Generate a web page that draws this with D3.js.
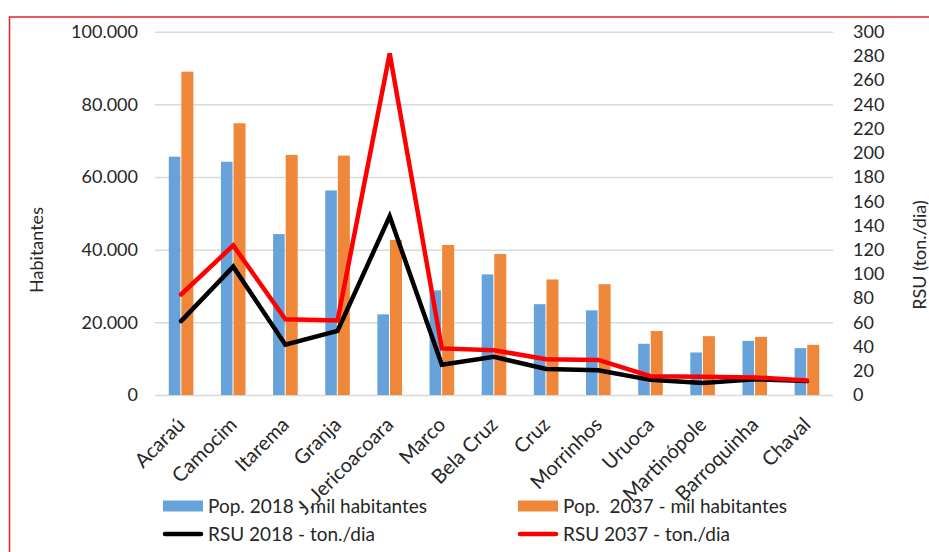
<!DOCTYPE html>
<html>
<head>
<meta charset="utf-8">
<script src="https://cdn.jsdelivr.net/npm/d3@7"></script>
<style>
  body { margin: 0; background: #fff; }
  svg { display: block; font-family: Lato, "Open Sans", sans-serif; }
</style>
</head>
<body>
<div id="chart"></div>
<script>
const municipios = ["Acaraú", "Camocim", "Itarema", "Granja", "J. Jericoacoara", "Marco", "Bela Cruz",
    "Cruz", "Morrinhos", "Uruoca", "Martinópole", "Barroquinha", "Chaval"];
const pop2018 = [65600, 64200, 44300, 56300, 22200, 28800, 33200, 25000, 23300, 14100, 11700, 14900, 12900];
const pop2037 = [89000, 74800, 66100, 65900, 42700, 41300, 38800, 31800, 30500, 17600, 16200, 16000, 13800];
const rsu2018 = [61, 106, 41.5, 53, 147.5, 25, 31.5, 21.5, 20.5, 12.5, 10, 13, 11.5];
const rsu2037 = [83, 123.5, 62.5, 61.5, 282, 38.5, 37, 29.5, 29, 15.5, 15, 14.5, 12];
const popTicks = [0, 20000, 40000, 60000, 80000, 100000];
const rsuTicks = d3.range(0, 301, 20);

const W = 929, H = 552;
const plotLeft = 155, plotRight = 833, plotTop = 31.7, plotBottom = 395;

const svg = d3.select("#chart").append("svg")
    .attr("width", W)
    .attr("height", H);

// moldura vermelha
svg.append("rect")
    .attr("x", 9.5).attr("y", 17)
    .attr("width", W + 20).attr("height", H + 20)
    .attr("fill", "none")
    .attr("stroke", "#e3262b")
    .attr("stroke-width", 1.5);

const ptBR = d3.formatLocale({ decimal: ",", thousands: ".", grouping: [3], currency: ["R$", ""] });

const x = d3.scaleBand()
    .domain(municipios)
    .range([plotLeft, plotRight]);

const barW = x.bandwidth() * 0.236;

const yPop = d3.scaleLinear().domain([0, 100000]).range([plotBottom, plotTop]);
const yRsu = d3.scaleLinear().domain([0, 300]).range([plotBottom, plotTop]);

// grade + eixo esquerdo
const gLeft = svg.append("g")
    .attr("transform", `translate(${plotLeft},0)`)
    .call(d3.axisLeft(yPop)
        .tickValues(popTicks)
        .tickSize(-(plotRight - plotLeft))
        .tickPadding(17)
        .tickFormat(d => ptBR.format(",")(d)));
gLeft.select(".domain").remove();
gLeft.selectAll("line").attr("stroke", "#d9d9d9").attr("stroke-width", 1.5);
gLeft.selectAll("text").attr("font-size", 18).attr("fill", "#262626").attr("font-family", "Lato");

// eixo direito
const gRight = svg.append("g")
    .attr("transform", `translate(${plotRight},0)`)
    .call(d3.axisRight(yRsu).tickValues(rsuTicks).tickSize(0).tickPadding(20));
gRight.select(".domain").remove();
gRight.selectAll("text").attr("font-size", 18).attr("fill", "#262626").attr("font-family", "Lato");

// barras
const grupos = svg.append("g").selectAll("g")
    .data(municipios)
    .enter().append("g");

grupos.append("rect")
    .attr("x", (d) => x(d) + x.bandwidth() / 2 - barW)
    .attr("y", (d, i) => yPop(pop2018[i]))
    .attr("width", barW - 0.7)
    .attr("height", (d, i) => plotBottom - yPop(pop2018[i]))
    .attr("fill", "#67a3da");

grupos.append("rect")
    .attr("x", (d) => x(d) + x.bandwidth() / 2 + 0.3)
    .attr("y", (d, i) => yPop(pop2037[i]))
    .attr("width", barW - 0.3)
    .attr("height", (d, i) => plotBottom - yPop(pop2037[i]))
    .attr("fill", "#ef873a");

// linhas RSU
const linha = d3.line()
    .x((d, i) => x(municipios[i]) + x.bandwidth() / 2)
    .y(d => yRsu(d));

svg.append("path")
    .datum(rsu2018)
    .attr("d", linha)
    .attr("fill", "none")
    .attr("stroke", "#000")
    .attr("stroke-width", 4.5)
    .attr("stroke-linejoin", "miter")
    .attr("stroke-linecap", "round");

svg.append("path")
    .datum(rsu2037)
    .attr("d", linha)
    .attr("fill", "none")
    .attr("stroke", "#ff0000")
    .attr("stroke-width", 4.5)
    .attr("stroke-linejoin", "miter")
    .attr("stroke-linecap", "round");

// rótulos do eixo x
svg.append("g").selectAll("text")
    .data(municipios)
    .enter().append("text")
    .attr("transform", d => `translate(${x(d) + x.bandwidth() / 2 + 5},${plotBottom + 31}) rotate(-45)`)
    .attr("text-anchor", "end")
    .attr("font-size", 20)
    .attr("fill", "#262626")
    .text(d => d);

// títulos dos eixos
svg.append("text")
    .attr("transform", "translate(43,250) rotate(-90)")
    .attr("text-anchor", "middle")
    .attr("font-size", 18)
    .attr("fill", "#262626")
    .text("Habitantes");

svg.append("text")
    .attr("transform", "translate(926,255) rotate(-90)")
    .attr("text-anchor", "middle")
    .attr("font-size", 18)
    .attr("fill", "#262626")
    .text("RSU (ton./dia)");

// legenda
const legenda = [
    { nome: "Pop. 2018 - mil habitantes", cor: "#67a3da", tipo: "bar", lx: 163, ly: 506 },
    { nome: "Pop.  2037 - mil habitantes", cor: "#ef873a", tipo: "bar", lx: 518, ly: 506 },
    { nome: "RSU 2018 - ton./dia", cor: "#000", tipo: "line", lx: 163, ly: 534 },
    { nome: "RSU 2037 - ton./dia", cor: "#ff0000", tipo: "line", lx: 518, ly: 534 }
];

const itens = svg.append("g").selectAll("g")
    .data(legenda)
    .enter().append("g")
    .attr("transform", d => `translate(${d.lx},${d.ly})`);

itens.filter(d => d.tipo === "bar").append("rect")
    .attr("x", 0).attr("y", -5.5)
    .attr("width", 40).attr("height", 11)
    .attr("fill", d => d.cor);

itens.filter(d => d.tipo === "line").append("line")
    .attr("x1", 2).attr("x2", 38)
    .attr("stroke", d => d.cor)
    .attr("stroke-width", 4.5)
    .attr("stroke-linecap", "round");

itens.append("text")
    .attr("x", 45)
    .attr("y", 6.5)
    .attr("font-size", 19)
    .attr("fill", "#262626")
    .style("white-space", "pre")
    .text(d => d.nome);
</script>
</body>
</html>
